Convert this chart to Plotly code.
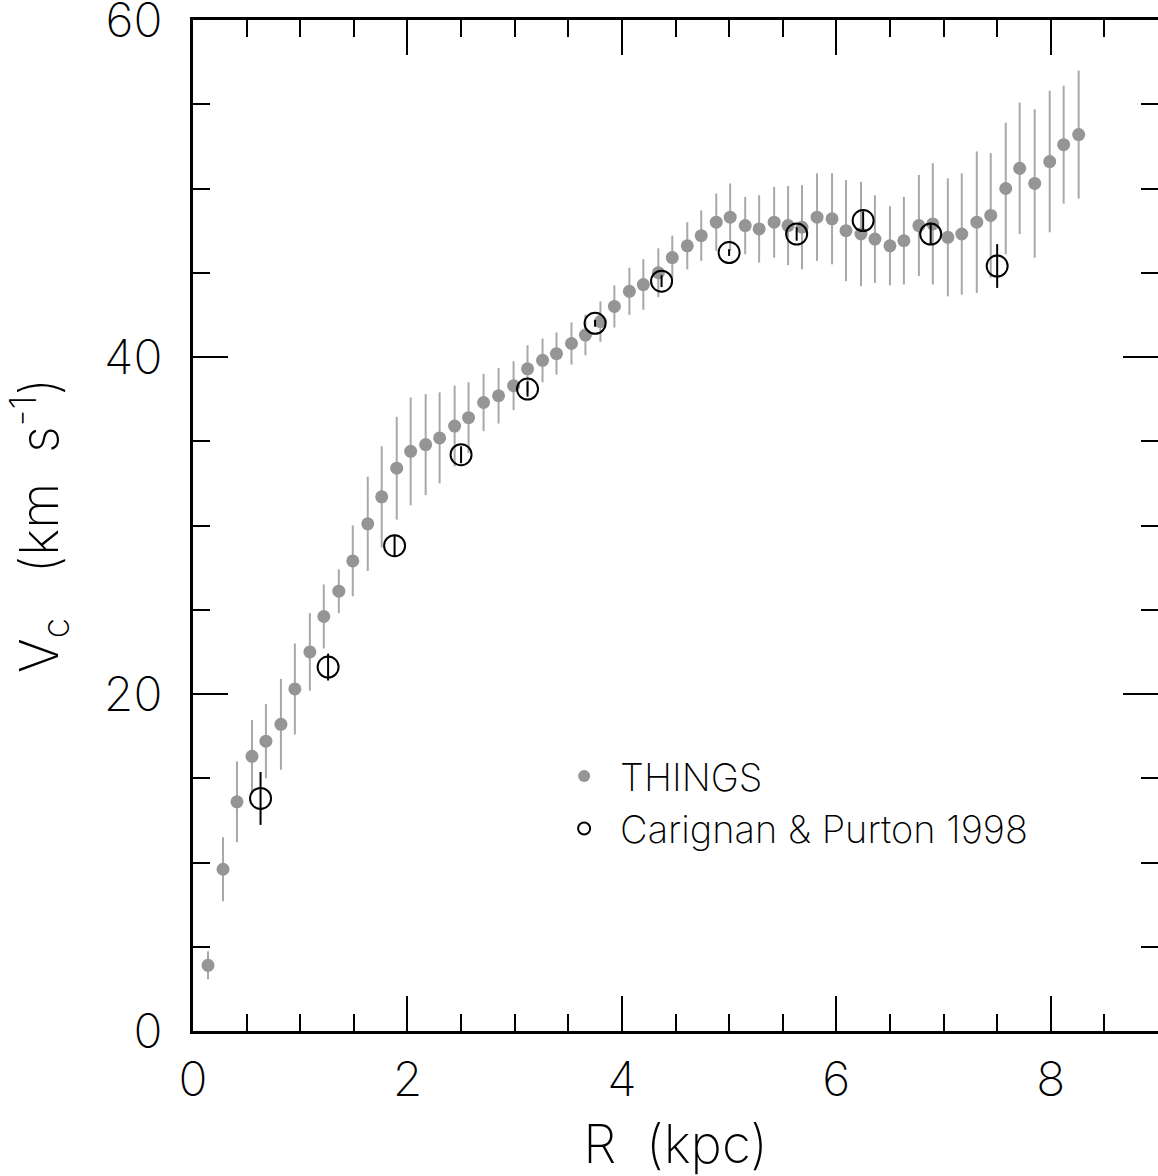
import plotly.graph_objects as go

# THINGS rotation curve
R_things = [0.14, 0.28, 0.41, 0.55, 0.68, 0.82, 0.95, 1.09, 1.22, 1.36,
            1.49, 1.63, 1.76, 1.90, 2.03, 2.17, 2.30, 2.44, 2.57, 2.71,
            2.85, 2.99, 3.12, 3.26, 3.39, 3.53, 3.66, 3.80, 3.93, 4.07,
            4.20, 4.34, 4.47, 4.61, 4.74, 4.88, 5.01, 5.15, 5.28, 5.42,
            5.55, 5.68, 5.82, 5.96, 6.09, 6.23, 6.36, 6.50, 6.63, 6.77,
            6.90, 7.04, 7.17, 7.31, 7.44, 7.58, 7.71, 7.85, 7.99, 8.12, 8.26]
V_things = [3.9, 9.6, 13.6, 16.3, 17.2, 18.2, 20.3, 22.5, 24.6, 26.1,
            27.9, 30.1, 31.7, 33.4, 34.4, 34.8, 35.2, 35.9, 36.4, 37.3,
            37.7, 38.3, 39.3, 39.8, 40.2, 40.8, 41.3, 42.1, 43.0, 43.9,
            44.3, 45.0, 45.9, 46.6, 47.2, 48.0, 48.3, 47.8, 47.6, 48.0,
            47.8, 47.7, 48.3, 48.2, 47.5, 47.3, 47.0, 46.6, 46.9, 47.8,
            47.9, 47.1, 47.3, 48.0, 48.4, 50.0, 51.2, 50.3, 51.6, 52.6, 53.2]
E_things = [0.83, 1.9, 2.4, 2.15, 2.2, 2.7, 2.7, 2.3, 1.9, 1.3,
            2.1, 2.8, 3.0, 3.05, 3.2, 3.0, 2.7, 2.4, 2.1, 1.7,
            1.65, 1.45, 1.4, 1.3, 1.25, 1.25, 1.2, 1.2, 1.25, 1.4,
            1.5, 1.45, 1.3, 1.4, 1.5, 1.7, 2.0, 1.7, 2.0, 2.1,
            2.35, 2.5, 2.6, 2.7, 3.0, 3.1, 2.6, 2.35, 2.6, 3.0,
            3.6, 3.5, 3.6, 4.2, 3.7, 3.9, 3.9, 4.4, 4.2, 3.5, 3.8]

# Carignan & Purton 1998
R_cp = [0.63, 1.26, 1.88, 2.50, 3.12, 3.75, 4.37, 5.00, 5.63, 6.25, 6.88, 7.50]
V_cp = [13.8, 21.6, 28.8, 34.2, 38.1, 42.0, 44.5, 46.2, 47.3, 48.1, 47.3, 45.4]
E_cp = [1.57, 0.8, 0.65, 0.5, 0.45, 0.2, 0.35, 0.2, 0.4, 0.55, 0.65, 1.3]

FONT = "Inter"
WEIGHT = 200
NB = "\u00a0"

fig = go.Figure()
fig.add_trace(go.Scatter(
    x=R_things, y=V_things, mode="markers", name="THINGS",
    marker=dict(color="#959595", size=13, line=dict(width=0)),
    error_y=dict(type="data", array=E_things, color="#a8a8a8", thickness=2, width=0),
))
fig.add_trace(go.Scatter(
    x=R_cp, y=V_cp, mode="markers", name="Carignan &amp; Purton 1998",
    marker=dict(symbol="circle-open", color="black", size=21, line=dict(width=2, color="black")),
    error_y=dict(type="data", array=E_cp, color="black", thickness=2, width=0),
))

axis_common = dict(
    showline=True, linecolor="black", linewidth=3, mirror="ticks",
    ticks="inside", ticklen=35, tickwidth=2, tickcolor="black",
    showgrid=False, zeroline=False, automargin=False,
    ticklabeloverflow="allow",
    tickfont=dict(family=FONT, size=48, color="black", weight=WEIGHT),
    title_font=dict(family=FONT, size=53, color="black", weight=WEIGHT),
)

fig.update_xaxes(
    range=[0, 9], tickvals=[0, 2, 4, 6, 8], ticktext=["0", "2", "4", "6", "8"],
    minor=dict(dtick=0.5, tick0=0, ticks="inside", ticklen=17, tickwidth=2, tickcolor="black", showgrid=False),
    title_text="R" + NB * 2 + "(kpc)", title_standoff=33, ticklabelstandoff=4,
    **axis_common,
)
fig.update_yaxes(
    range=[0, 60], tickvals=[0, 20, 40, 60], ticktext=["0", "20", "40", "60"],
    minor=dict(dtick=5, tick0=0, ticks="inside", ticklen=17, tickwidth=2, tickcolor="black", showgrid=False),
    title_text="V<sub>c</sub>" + NB * 3 + "(km" + NB * 2 + "s<sup>-1</sup>)",
    title_standoff=38, ticklabelstandoff=18,
    **axis_common,
)

fig.update_layout(
    width=1158, height=1176,
    margin=dict(l=193, r=0, t=20, b=145),
    paper_bgcolor="white", plot_bgcolor="white",
    showlegend=True,
    legend=dict(
        x=0.368, y=0.283, xanchor="left", yanchor="top",
        bgcolor="rgba(0,0,0,0)", borderwidth=0,
        font=dict(family=FONT, size=38, color="black", weight=WEIGHT),
        itemsizing="constant", tracegroupgap=0, itemwidth=62,
    ),
)

fig.write_html("out.html")
